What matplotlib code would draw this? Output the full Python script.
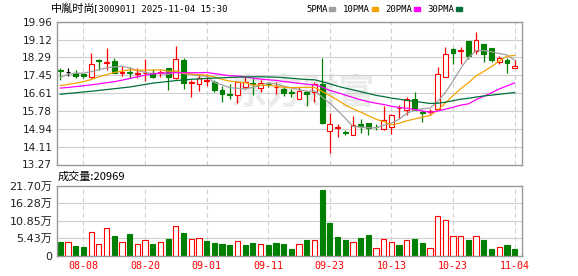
import matplotlib
matplotlib.use('Agg')
import matplotlib.pyplot as plt
import matplotlib.patches as patches
import numpy as np

# trading days 2025-08-05 .. 2025-11-04
dates = ['08-05', '08-06', '08-07', '08-08', '08-11', '08-12', '08-13', '08-14', '08-15', '08-18',
         '08-19', '08-20', '08-21', '08-22', '08-25', '08-26', '08-27', '08-28', '08-29', '09-01',
         '09-02', '09-03', '09-04', '09-05', '09-08', '09-09', '09-10', '09-11', '09-12', '09-15',
         '09-16', '09-17', '09-18', '09-19', '09-22', '09-23', '09-24', '09-25', '09-26', '09-29',
         '09-30', '10-09', '10-10', '10-13', '10-14', '10-15', '10-16', '10-17', '10-20', '10-21',
         '10-22', '10-23', '10-24', '10-27', '10-28', '10-29', '10-30', '10-31', '11-03', '11-04']
opens = [17.71, 17.61, 17.56, 17.49, 17.35, 18.17, 18.03, 18.11, 17.58, 17.60,
         17.52, 17.54, 17.55, 17.54, 17.77, 17.30, 18.15, 17.10, 17.03, 17.18,
         17.14, 16.78, 16.55, 16.51, 16.90, 17.08, 16.87, 17.05, 16.88, 16.83,
         16.67, 16.36, 16.67, 16.67, 17.02, 14.82, 14.98, 14.79, 14.67, 15.18,
         15.21, 15.05, 14.95, 15.02, 15.90, 15.81, 16.36, 15.72, 15.74, 15.89,
         17.37, 18.68, 18.60, 19.05, 18.58, 18.90, 18.71, 18.05, 18.16, 17.77]
highs = [17.80, 17.80, 17.69, 17.56, 18.50, 18.22, 18.74, 18.24, 17.89, 17.84,
         17.80, 18.20, 17.75, 17.72, 17.80, 18.82, 18.24, 17.22, 17.49, 17.53,
         17.22, 16.94, 17.06, 17.19, 17.35, 17.30, 17.25, 17.14, 17.14, 16.90,
         16.80, 16.90, 16.70, 17.14, 18.24, 15.70, 15.15, 14.90, 15.54, 15.42,
         15.21, 15.18, 16.01, 15.65, 16.04, 16.43, 16.67, 15.81, 15.87, 17.84,
         18.79, 18.72, 18.79, 19.05, 19.46, 18.90, 18.71, 18.35, 18.24, 18.16]
lows = [17.25, 17.41, 17.30, 17.33, 17.30, 17.69, 17.69, 17.56, 17.41, 17.33,
        17.33, 17.20, 17.33, 17.35, 16.75, 17.28, 16.82, 16.43, 16.70, 16.95,
        16.65, 16.20, 16.33, 16.15, 16.81, 16.51, 16.68, 16.90, 16.55, 16.47,
        16.45, 16.36, 16.00, 16.20, 15.18, 13.80, 14.55, 14.63, 14.63, 14.75,
        14.63, 14.90, 14.90, 14.72, 15.47, 15.57, 15.81, 15.26, 15.57, 15.85,
        17.37, 17.96, 18.00, 18.19, 18.43, 18.05, 18.05, 18.00, 17.56, 17.77]
closes = [17.67, 17.61, 17.41, 17.41, 18.00, 18.12, 18.08, 17.58, 17.62, 17.55,
          17.55, 17.58, 17.37, 17.62, 17.35, 18.20, 17.10, 17.14, 17.30, 17.24,
          16.75, 16.55, 16.51, 17.14, 17.14, 17.04, 17.09, 17.02, 16.92, 16.62,
          16.64, 16.70, 16.56, 17.06, 15.21, 15.15, 15.02, 14.76, 15.10, 15.06,
          15.00, 15.02, 15.37, 15.60, 15.94, 16.36, 15.81, 15.68, 15.78, 17.49,
          18.43, 18.50, 18.64, 18.36, 19.10, 18.47, 18.16, 18.24, 18.03, 17.89]
# volume in 万 shares
volumes = [4.13, 4.13, 2.86, 2.54, 7.20, 3.70, 8.47, 6.03, 4.13, 6.67,
           3.49, 4.97, 3.49, 4.13, 5.08, 9.10, 6.98, 5.29, 5.61, 4.44,
           3.81, 3.49, 3.17, 4.66, 3.17, 3.81, 3.70, 3.17, 3.81, 3.49,
           1.90, 3.49, 4.76, 4.76, 20.30, 10.16, 5.71, 4.76, 4.13, 5.40,
           6.35, 2.43, 5.29, 4.13, 3.17, 4.97, 5.08, 3.81, 2.43, 12.27,
           11.00, 6.03, 6.24, 4.76, 6.24, 4.76, 1.90, 2.75, 3.17, 2.10]
vol_up = [0, 1, 0, 0, 1, 1, 1, 0, 1, 0,
          1, 1, 0, 1, 0, 1, 0, 1, 1, 0,
          0, 0, 0, 1, 0, 0, 1, 0, 0, 0,
          0, 1, 0, 1, 0, 0, 0, 0, 1, 0,
          0, 1, 1, 1, 0, 1, 0, 0, 1, 1,
          1, 1, 1, 0, 1, 0, 0, 1, 0, 0]
ma5 = [17.35, 17.50, 17.55, 17.55, 17.62, 17.71, 17.80, 17.84, 17.88, 17.79,
       17.68, 17.58, 17.53, 17.53, 17.49, 17.62, 17.53, 17.48, 17.42, 17.40,
       17.11, 17.00, 16.87, 16.84, 16.82, 16.88, 16.98, 17.09, 17.04, 16.94,
       16.86, 16.78, 16.69, 16.72, 16.43, 16.14, 15.80, 15.44, 15.05, 15.02,
       14.99, 14.99, 15.11, 15.21, 15.39, 15.66, 15.82, 15.88, 15.91, 16.22,
       16.64, 17.18, 17.77, 18.28, 18.61, 18.61, 18.55, 18.47, 18.40, 18.16]
ma10 = [16.97, 17.02, 17.08, 17.15, 17.25, 17.38, 17.48, 17.58, 17.65, 17.71,
        17.69, 17.69, 17.69, 17.71, 17.64, 17.65, 17.55, 17.51, 17.48, 17.45,
        17.37, 17.26, 17.18, 17.13, 17.11, 16.99, 16.99, 16.98, 16.94, 16.88,
        16.87, 16.88, 16.89, 16.88, 16.69, 16.50, 16.29, 16.06, 15.88, 15.73,
        15.56, 15.39, 15.28, 15.13, 15.20, 15.32, 15.40, 15.49, 15.56, 15.81,
        16.15, 16.50, 16.82, 17.10, 17.42, 17.63, 17.86, 18.12, 18.34, 18.38]
ma20 = [16.85, 16.88, 16.92, 16.96, 17.00, 17.05, 17.10, 17.15, 17.22, 17.30,
        17.38, 17.45, 17.52, 17.55, 17.56, 17.57, 17.57, 17.57, 17.57, 17.58,
        17.53, 17.48, 17.43, 17.42, 17.37, 17.32, 17.27, 17.24, 17.21, 17.16,
        17.12, 17.07, 17.03, 17.00, 16.90, 16.74, 16.64, 16.52, 16.41, 16.30,
        16.21, 16.14, 16.08, 16.00, 15.94, 15.91, 15.85, 15.78, 15.72, 15.77,
        15.86, 15.95, 16.05, 16.11, 16.31, 16.47, 16.63, 16.81, 16.95, 17.09]
ma30 = [16.56, 16.60, 16.63, 16.67, 16.70, 16.74, 16.78, 16.82, 16.86, 16.90,
        16.96, 17.02, 17.08, 17.12, 17.16, 17.20, 17.23, 17.26, 17.28, 17.30,
        17.32, 17.33, 17.35, 17.36, 17.37, 17.38, 17.38, 17.37, 17.36, 17.34,
        17.31, 17.28, 17.25, 17.24, 17.15, 17.05, 16.94, 16.85, 16.77, 16.68,
        16.60, 16.51, 16.45, 16.38, 16.33, 16.27, 16.23, 16.18, 16.13, 16.14,
        16.19, 16.26, 16.33, 16.37, 16.43, 16.48, 16.52, 16.56, 16.60, 16.64]

price_ticks = [19.96, 19.12, 18.29, 17.45, 16.61, 15.78, 14.94, 14.11, 13.27]
vol_ticks = [0, 5.43, 10.85, 16.28, 21.70]
vol_tick_labels = ['0', '5.43万', '10.85万', '16.28万', '21.70万']
tick_dates = ['08-08', '08-20', '09-01', '09-11', '09-23', '10-13', '10-23', '11-04']
ma_names = ['5PMA', '10PMA', '20PMA', '30PMA']
ma_colors = ['#a0a0a0', '#f5a300', '#ff00ff', '#006f3a']

RED = '#ff0000'
GREEN = '#008000'
GRID = '#cfcfcf'
W, H = 578, 276

fig = plt.figure(figsize=(W / 100, H / 100), dpi=100)
ax = fig.add_axes([56.5 / W, 1 - 164.5 / H, 465.8 / W, 142.8 / H])
axv = fig.add_axes([56.5 / W, 1 - 255.5 / H, 465.8 / W, 69.5 / H])

x = np.arange(len(dates))
o = np.array(opens)
c = np.array(closes)
tick_pos = [dates.index(d) for d in tick_dates]

for a in (ax, axv):
    a.set_xlim(-0.5, len(dates))
    a.set_xticks(tick_pos)
    a.grid(axis='x', color=GRID, lw=0.8, ls=(0, (4, 3)))
    a.grid(axis='y', color=GRID, lw=0.8)
    a.set_axisbelow(True)
    for s in a.spines.values():
        s.set_color('#999999')
        s.set_linewidth(1.0)
    a.tick_params(length=0)

# watermark
ax.text(0.53, 0.5, '东方财富', transform=ax.transAxes, ha='center', va='center',
        fontsize=26, fontweight='bold', color='#ebebeb', family='Noto Sans CJK SC', zorder=0)

# candles
col = [RED if cc > oo else (GREEN if cc < oo else 'black') for oo, cc in zip(opens, closes)]
ax.vlines(x, lows, highs, colors=col, lw=0.9, zorder=2)
face = ['white' if cc > oo else cl for oo, cc, cl in zip(opens, closes, col)]
ax.bar(x, np.maximum(np.abs(c - o), 0.002), bottom=np.minimum(o, c), width=0.62,
       color=face, edgecolor=col, lw=0.8, zorder=2.5)

for vals, cl in zip([ma5, ma10, ma20, ma30], ma_colors):
    ax.plot(x, vals, color=cl, lw=0.9, zorder=3)

ax.set_ylim(13.27, 19.96)
ax.set_yticks(price_ticks)
ax.set_yticklabels([f'{t:.2f}' for t in price_ticks], fontsize=7.6, color='#202020',
                   family='DejaVu Sans')
ax.tick_params(axis='y', pad=3)
ax.set_xticklabels([])

# volume
vcol = [RED if u else GREEN for u in vol_up]
vface = ['white' if u else GREEN for u in vol_up]
axv.bar(x, volumes, width=0.68, color=vface, edgecolor=vcol, lw=0.8, zorder=2)
axv.set_ylim(0, 21.70)
axv.set_yticks(vol_ticks)
axv.set_yticklabels(vol_tick_labels, fontsize=8, color='#202020',
                    family=['DejaVu Sans', 'Noto Sans CJK SC'])
axv.tick_params(axis='y', pad=3)
axv.set_xticklabels(tick_dates, fontsize=7.2, color=RED, family='DejaVu Sans Mono')
axv.tick_params(axis='x', pad=4)

# header
fig.text(51 / W, 1 - 9 / H, '中胤时尚', fontsize=8, family='Noto Sans CJK SC', va='center')
fig.text(93 / W, 1 - 9 / H, '[300901] 2025-11-04 15:30', fontsize=6.5,
         family='DejaVu Sans Mono', va='center')
leg_x = [306, 343, 385, 427]
for name, cl, lx in zip(ma_names, ma_colors, leg_x):
    t = fig.text(lx / W, 1 - 9 / H, name, fontsize=6.5, family='DejaVu Sans Mono', va='center')
    sx = lx + 5.44 * len(name) + 1.5
    fig.add_artist(patches.Rectangle((sx / W, 1 - 10.5 / H), 6 / W, 3.5 / H,
                                     transform=fig.transFigure, color=cl))

fig.text(58 / W, 1 - 176.5 / H, '成交量:20969', fontsize=8, family='Noto Sans CJK SC',
         va='center')

fig.savefig('out.png', dpi=100)
